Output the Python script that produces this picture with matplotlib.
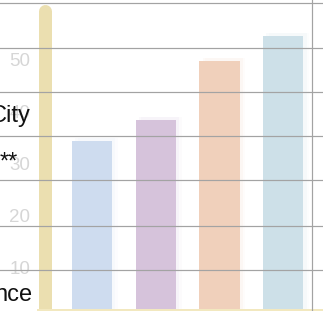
import matplotlib

matplotlib.use("Agg")
import matplotlib.pyplot as plt
from matplotlib.lines import Line2D
from matplotlib.transforms import ScaledTranslation

# chart data
categories = ["A", "B", "C", "D"]
values = [32.4, 36.4, 47.7, 52.5]
bar_colors = ["#cedcef", "#d6c3db", "#f0d0bb", "#cde0e8"]
tick_values = [10, 20, 30, 40, 50]
row_labels = ["City", "**", "nce"]

W, H, DPI = 323, 311, 100
LABEL_FONT = ["Liberation Sans Narrow", "Liberation Sans", "DejaVu Sans"]
fig = plt.figure(figsize=(W / DPI, H / DPI), dpi=DPI)
fig.patch.set_facecolor("white")


def fx(px):
    return px / W


def fy(py):
    return 1 - py / H


# axes: x from 44.5px to 312px, y zero at 310px, 5.22 px per unit
ax = fig.add_axes([fx(44.5), fy(310), fx(312) - fx(44.5), 60 * 5.22 / H])
ax.set_xlim(-0.745, 3.45)
ax.set_ylim(0, 60)
ax.patch.set_alpha(0)
for s in ax.spines.values():
    s.set_visible(False)
ax.tick_params(length=0)
ax.set_xticks([])

x = list(range(len(categories)))
# soft glow behind bars
for dx, a in [(0.05, 0.10), (0.09, 0.06)]:
    ax.bar([i + dx for i in x], [v + 0.6 for v in values], width=0.63,
           color=bar_colors, alpha=a, zorder=1)
ax.bar(x, values, width=0.63, color=bar_colors, zorder=2)

# yellow left axis with round cap
ax.plot([-0.745, -0.745], [0, 57.2], color="#ebdfb0", lw=13 * 72 / DPI,
        solid_capstyle="round", clip_on=False, zorder=3)

ax.set_yticks(tick_values)
ax.set_yticklabels([str(t) for t in tick_values], color="#d6d6d6",
                   fontsize=13.5, fontfamily=["Liberation Sans", "DejaVu Sans"])
ax.tick_params(axis="y", pad=10.4)
off = ScaledTranslation(0, -10 / DPI, fig.dpi_scale_trans)
for lab in ax.get_yticklabels():
    lab.set_transform(lab.get_transform() + off)

# baseline
fig.add_artist(Line2D([fx(38), fx(323)], [fy(310), fy(310)],
                      color="#f2e8bf", lw=3 * 72 / DPI, zorder=4))

# table row borders drawn over the chart
for py in [3, 48, 92, 136, 180, 226, 270]:
    fig.add_artist(Line2D([0, 1], [fy(py), fy(py)], color="#a3a3a3",
                          lw=1.2 * 72 / DPI, zorder=10))
fig.add_artist(Line2D([fx(312), fx(312)], [0, 1], color="#a3a3a3",
                      lw=1.2 * 72 / DPI, zorder=10))

# cropped row labels on the left
fig.text(fx(31), fy(122), row_labels[0], ha="right", va="baseline",
         fontsize=17, color="#111111", family=LABEL_FONT, zorder=11)
fig.text(fx(18), fy(169), row_labels[1], ha="right", va="baseline",
         fontsize=17, color="#111111", family=LABEL_FONT, zorder=11)
fig.text(fx(33), fy(301), row_labels[2], ha="right", va="baseline",
         fontsize=17, color="#111111", family=LABEL_FONT, zorder=11)

fig.savefig("out.png", dpi=DPI)
